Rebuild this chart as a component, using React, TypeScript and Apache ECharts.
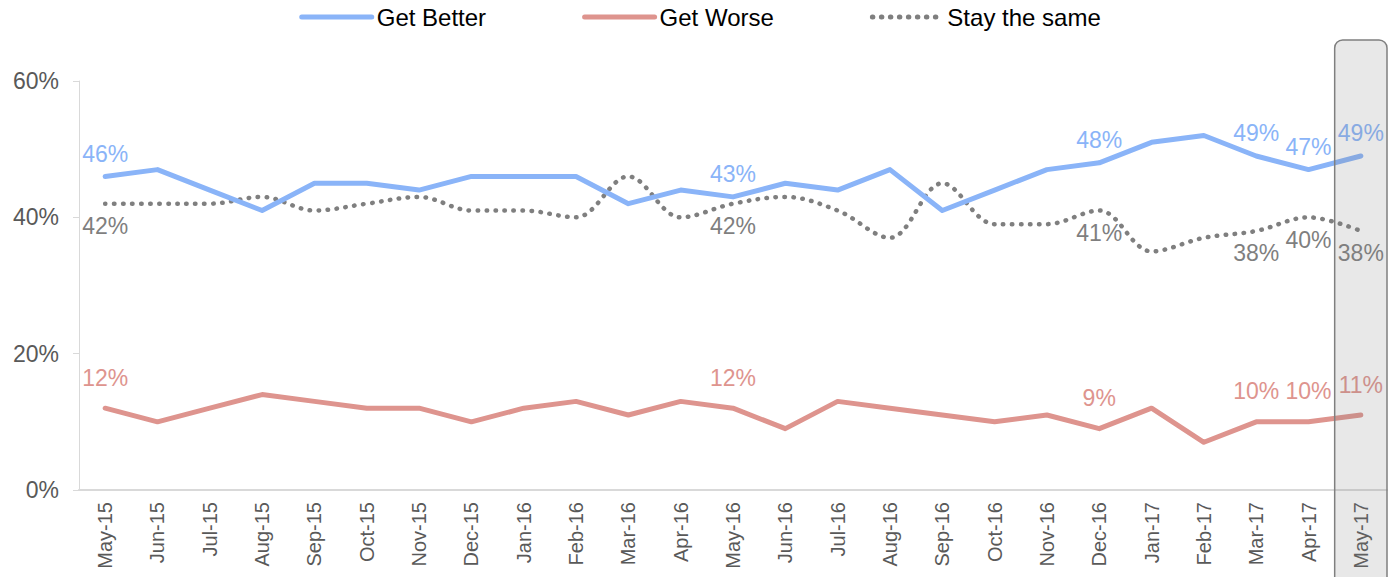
import React, { useEffect, useRef } from "react";
import * as echarts from "echarts";

const categories = [
  "May-15", "Jun-15", "Jul-15", "Aug-15", "Sep-15", "Oct-15", "Nov-15", "Dec-15",
  "Jan-16", "Feb-16", "Mar-16", "Apr-16", "May-16", "Jun-16", "Jul-16", "Aug-16",
  "Sep-16", "Oct-16", "Nov-16", "Dec-16", "Jan-17", "Feb-17", "Mar-17", "Apr-17", "May-17",
];
const getBetter = [46, 47, 44, 41, 45, 45, 44, 46, 46, 46, 42, 44, 43, 45, 44, 47, 41, 44, 47, 48, 51, 52, 49, 47, 49];
const getWorse = [12, 10, 12, 14, 13, 12, 12, 10, 12, 13, 11, 13, 12, 9, 13, 12, 11, 10, 11, 9, 12, 7, 10, 10, 11];
const stayTheSame = [42, 42, 42, 43, 41, 42, 43, 41, 41, 40, 46, 40, 42, 43, 41, 37, 45, 39, 39, 41, 35, 37, 38, 40, 38];
const labelledMonths = ["May-15", "May-16", "Dec-16", "Mar-17", "Apr-17", "May-17"];
const highlightMonth = "May-17";
const yTicks = [0, 20, 40, 60];

const FONT = "'Liberation Sans', Arial, sans-serif";
const BLUE = "#8AB4F8";
const RED = "#DE948E";
const GRAY = "#7F7F7F";

function withLabels(values: number[]) {
  return values.map((v, i) => ({
    value: v,
    label: { show: labelledMonths.includes(categories[i]) },
  }));
}

export default function App() {
  const ref = useRef<HTMLDivElement>(null);
  useEffect(() => {
    if (!ref.current) return;
    const chart = echarts.init(ref.current, undefined, { renderer: "svg" });
    const labelBase = { fontFamily: FONT, fontSize: 23, formatter: "{c}%" };
    const common = {
      type: "line",
      symbol: "circle",
      symbolSize: 0.01,
      showSymbol: true,
    };
    chart.setOption({
      animation: false,
      legend: {
        top: 0,
        left: "center",
        itemWidth: 70,
        itemHeight: 14,
        itemGap: 96,
        itemStyle: { opacity: 0 },
        lineStyle: { width: 5, cap: "round" },
        textStyle: { fontFamily: FONT, fontSize: 24, color: "#000" },
        data: ["Get Better", "Get Worse", "Stay the same"],
      },
      grid: { left: 79, right: 13, top: 81, bottom: 87, containLabel: false },
      xAxis: {
        type: "category",
        data: categories,
        boundaryGap: true,
        axisLine: { lineStyle: { color: "#D9D9D9", width: 2 } },
        axisTick: { show: false },
        axisLabel: {
          rotate: 90,
          interval: 0,
          margin: 12,
          fontFamily: FONT,
          fontSize: 20,
          color: "#595959",
        },
      },
      yAxis: {
        type: "value",
        min: 0,
        max: 60,
        interval: 20,
        splitLine: { show: false },
        axisLine: { show: true, lineStyle: { color: "#D9D9D9", width: 1 } },
        axisTick: { show: true, length: 6, lineStyle: { color: "#D9D9D9" } },
        axisLabel: {
          margin: 20,
          fontFamily: FONT,
          fontSize: 23,
          color: "#595959",
          formatter: (v: number) => (yTicks.includes(v) ? v + "%" : ""),
        },
      },
      series: [
        {
          ...common,
          name: "Get Better",
          data: withLabels(getBetter),
          lineStyle: { color: BLUE, width: 5, cap: "round", join: "round" },
          itemStyle: { color: BLUE },
          label: { ...labelBase, position: "top", distance: 11, color: BLUE },
          z: 3,
        },
        {
          ...common,
          name: "Get Worse",
          data: withLabels(getWorse),
          lineStyle: { color: RED, width: 5, cap: "round", join: "round" },
          itemStyle: { color: RED },
          label: { ...labelBase, position: "top", distance: 19, color: RED },
          z: 2,
        },
        {
          ...common,
          name: "Stay the same",
          smooth: 0.35,
          data: withLabels(stayTheSame),
          lineStyle: { color: GRAY, width: 4.5, type: [0.5, 8.5], cap: "round" },
          itemStyle: { color: GRAY },
          label: { ...labelBase, position: "bottom", distance: 11, color: GRAY },
          z: 2,
        },
      ],
    });

    const idx = categories.indexOf(highlightMonth);
    const c0 = chart.convertToPixel({ xAxisIndex: 0 }, categories[0]) as number;
    const c1 = chart.convertToPixel({ xAxisIndex: 0 }, categories[1]) as number;
    const band = c1 - c0;
    const cx = chart.convertToPixel({ xAxisIndex: 0 }, categories[idx]) as number;
    chart.setOption({
      graphic: [
        {
          type: "rect",
          z: 100,
          silent: true,
          shape: { x: cx - band / 2, y: 40, width: band, height: 560, r: 8 },
          style: { fill: "rgba(128,128,128,0.18)", stroke: "#7F7F7F", lineWidth: 1.5 },
        },
      ],
    });

    return () => chart.dispose();
  }, []);
  return (
    <div
      ref={ref}
      style={{ position: "fixed", left: 0, top: 0, width: 1400, height: 577, background: "#fff" }}
    />
  );
}
